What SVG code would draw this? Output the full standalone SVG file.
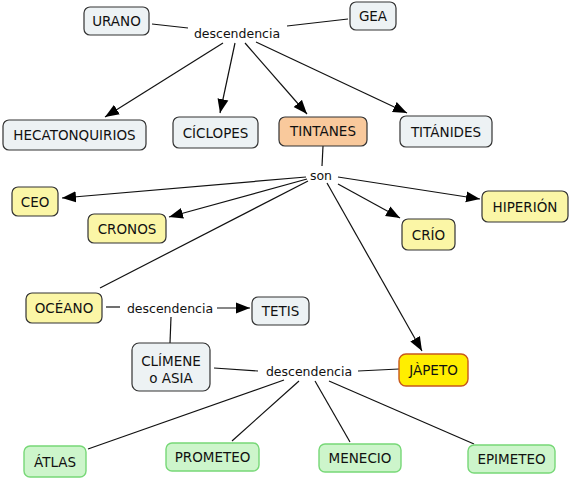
<svg xmlns="http://www.w3.org/2000/svg" width="570" height="480" viewBox="0 0 570 480">
<style>
.n rect{stroke:#333;stroke-width:1.2}
.blue rect{fill:#edf2f4}
.yel rect{fill:#fbf6a6}
.org rect{fill:#f9c99c}
.jap rect{fill:#ffee00;stroke:#c8581c;stroke-width:1.4}
.grn rect{fill:#cdf5cb;stroke:#77d877;stroke-width:1.4}
text{font-family:"DejaVu Sans",Verdana,sans-serif;fill:#111;text-anchor:middle}
.n text{font-size:13.5px}
.lbl{font-size:12.5px}
#links line{stroke:#111;stroke-width:1.2}
#links line.a{marker-end:url(#ah)}
</style>
<defs>
<marker id="ah" markerUnits="userSpaceOnUse" markerWidth="15" markerHeight="12" viewBox="0 0 15 12" refX="14" refY="6" orient="auto">
<path d="M0,0.5 L14,6 L0,11.5 z" fill="#000"/>
</marker>
</defs>
<rect width="570" height="480" fill="#fff"/>
<g id="links">
<line x1="152" y1="24" x2="188" y2="28"/>
<line x1="287" y1="26" x2="348" y2="19"/>
<line class="a" x1="223" y1="43" x2="105" y2="117"/>
<line class="a" x1="235" y1="43" x2="220" y2="113"/>
<line class="a" x1="245" y1="43" x2="307" y2="114"/>
<line class="a" x1="256" y1="42" x2="407" y2="113"/>
<line x1="323" y1="146" x2="322" y2="166"/>
<line class="a" x1="306" y1="177" x2="62" y2="198"/>
<line class="a" x1="307" y1="179" x2="169" y2="217"/>
<line x1="308" y1="181" x2="100" y2="288"/>
<line class="a" x1="338" y1="177" x2="480" y2="199"/>
<line class="a" x1="338" y1="184" x2="400" y2="218"/>
<line class="a" x1="327" y1="183" x2="422" y2="351"/>
<line x1="106" y1="307" x2="120" y2="307"/>
<line class="a" x1="217" y1="308" x2="250" y2="308"/>
<line x1="171" y1="317" x2="170" y2="343"/>
<line x1="214" y1="368" x2="258" y2="371"/>
<line x1="358" y1="371" x2="399" y2="369"/>
<line x1="284" y1="380" x2="88" y2="449"/>
<line x1="299" y1="381" x2="232" y2="441"/>
<line x1="315" y1="381" x2="350" y2="442"/>
<line x1="329" y1="381" x2="474" y2="444"/>
</g>
<g id="labels">
<text class="lbl" x="237" y="38">descendencia</text>
<text class="lbl" x="321" y="180">son</text>
<text class="lbl" x="170" y="313">descendencia</text>
<text class="lbl" x="309" y="376">descendencia</text>
</g>
<g id="urano" class="n blue"><rect x="84" y="7" width="65" height="28" rx="6"/><text x="116.5" y="26">URANO</text></g>
<g id="gea" class="n blue"><rect x="350" y="2" width="46" height="28" rx="6"/><text x="373" y="21">GEA</text></g>
<g id="hecatonquirios" class="n blue"><rect x="3" y="120" width="143" height="30" rx="6"/><text x="74.5" y="140">HECATONQUIRIOS</text></g>
<g id="ciclopes" class="n blue"><rect x="173" y="117" width="85" height="31" rx="6"/><text x="215.5" y="137.5">CÍCLOPES</text></g>
<g id="tintanes" class="n org"><rect x="279" y="117" width="88" height="29" rx="6"/><text x="323" y="136">TINTANES</text></g>
<g id="titanides" class="n blue"><rect x="400" y="116" width="92" height="31" rx="6"/><text x="446" y="136.5">TITÁNIDES</text></g>
<g id="ceo" class="n yel"><rect x="12" y="187" width="46" height="29" rx="6"/><text x="35" y="206.5">CEO</text></g>
<g id="cronos" class="n yel"><rect x="88" y="214" width="78" height="29" rx="6"/><text x="127" y="233.5">CRONOS</text></g>
<g id="crio" class="n yel"><rect x="402" y="219" width="53" height="31" rx="6"/><text x="428.5" y="239.5">CRÍO</text></g>
<g id="hiperion" class="n yel"><rect x="482" y="191" width="86" height="31" rx="6"/><text x="525" y="211.5">HIPERIÓN</text></g>
<g id="oceano" class="n yel"><rect x="26" y="293" width="76" height="30" rx="6"/><text x="64" y="313">OCÉANO</text></g>
<g id="tetis" class="n blue"><rect x="252" y="297" width="57" height="28" rx="6"/><text x="280.5" y="316">TETIS</text></g>
<g id="climene" class="n blue"><rect x="132" y="343" width="78" height="48" rx="7"/><text x="171" y="366">CLÍMENE</text><text x="171" y="383">o ASIA</text></g>
<g id="japeto" class="n jap"><rect x="399" y="354" width="69" height="32" rx="7"/><text x="433.5" y="375">JÀPETO</text></g>
<g id="atlas" class="n grn"><rect x="24" y="446" width="62" height="31" rx="6"/><text x="55" y="466.5">ÁTLAS</text></g>
<g id="prometeo" class="n grn"><rect x="166" y="443" width="93" height="28" rx="6"/><text x="212.5" y="462">PROMETEO</text></g>
<g id="menecio" class="n grn"><rect x="319" y="444" width="82" height="28" rx="6"/><text x="360" y="463">MENECIO</text></g>
<g id="epimeteo" class="n grn"><rect x="468" y="445" width="87" height="28" rx="6"/><text x="511.5" y="464">EPIMETEO</text></g>
</svg>
